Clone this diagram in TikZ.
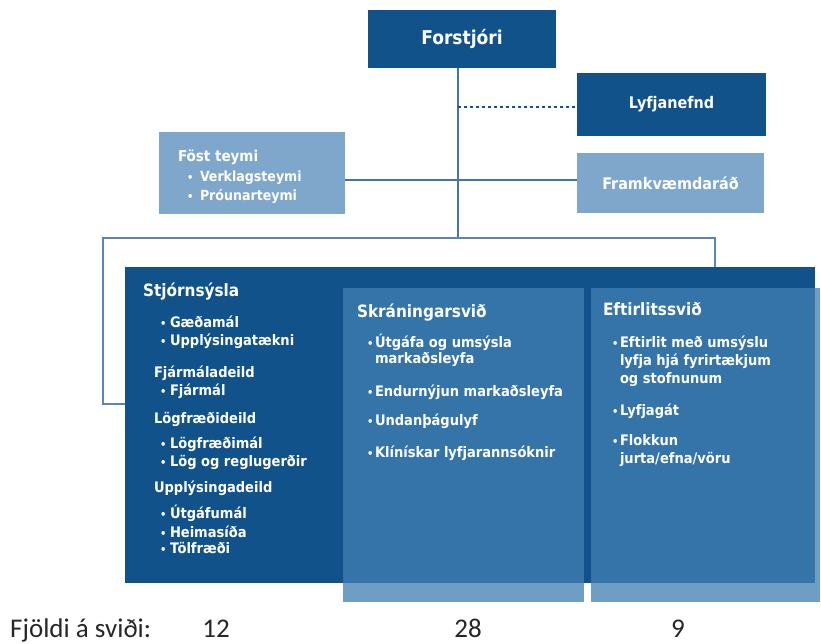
\documentclass[tikz,border=0pt]{standalone}
\usepackage{fontspec}
\setmainfont{DejaVu Sans Condensed}
\newfontfamily\calib{Carlito}
\definecolor{darkblue}{HTML}{11528A}
\definecolor{boxblue}{RGB}{64,127,178}
\definecolor{lightblue}{HTML}{7FA7CB}
\definecolor{lineblue}{HTML}{4774A5}
\definecolor{brblue}{HTML}{5B85B3}
\newcommand{\bul}[1]{\makebox[#1][l]{\fontsize{11}{11}\selectfont\textbullet}}
\tikzset{
  box/.style={draw=none, inner sep=0pt, outer sep=0pt, anchor=north west},
  tx/.style={anchor=base west, inner sep=0pt, outer sep=0pt, text=white, font=\bfseries\fontsize{14.5}{16}\selectfont},
  hd/.style={tx, font=\bfseries\fontsize{17}{19}\selectfont},
  conn/.style={draw=lineblue, line width=1.5pt},
  brk/.style={draw=brblue, line width=2pt},
  dots/.style={draw=darkblue, line width=2.2pt, dash pattern=on 3pt off 3pt},
  lbl/.style={anchor=base, inner sep=0pt, text=black!85, font=\calib\fontsize{27}{30}\selectfont}
}
\begin{document}
\begin{tikzpicture}[x=1pt,y=-1pt]
\useasboundingbox (0,0) rectangle (821,643);
% top boxes
\node[box, fill=darkblue, minimum width=188pt, minimum height=58pt, text=white, font=\bfseries\fontsize{19}{21}\selectfont] (f) at (368,10) {Forstjóri};
\node[box, fill=darkblue, minimum width=189pt, minimum height=63pt, text=white, font=\bfseries\fontsize{16}{18}\selectfont] (ly) at (577,73) {Lyfjanefnd};
\node[box, fill=lightblue, minimum width=187pt, minimum height=60pt, text=white, font=\bfseries\fontsize{16}{18}\selectfont] (fr) at (577,153) {Framkvæmdaráð};
\node[box, fill=lightblue, minimum width=186pt, minimum height=82pt] (ft) at (159,132) {};
\node[tx, font=\bfseries\fontsize{15}{17}\selectfont] (ft0) at (178,161) {Föst teymi};
\node[tx, font=\bfseries\fontsize{14}{16}\selectfont] (ft1) at (187,181) {\bul{13pt}Verklagsteymi};
\node[tx, font=\bfseries\fontsize{14}{16}\selectfont] (ft2) at (187,200) {\bul{13pt}Próunarteymi};
% connectors
\coordinate (top) at (458,238);
\coordinate (dj) at (458,107);
\coordinate (hz) at (458,180);
\coordinate (bl) at (103,404);
\coordinate (br) at (715,238);
\draw[conn] (f.south -| top) -- (top);
\draw[dots] (dj) -- (ly.west |- dj);
\draw[conn] (ft.east |- hz) -- (fr.west |- hz);
% main boxes
\node[box, fill=darkblue, minimum width=690pt, minimum height=316pt] (st) at (125,267) {};
\draw[brk] (st.west |- bl) -- (bl) |- (br) -- (br |- st.north);
\node[box, fill=boxblue, fill opacity=0.76, minimum width=241pt, minimum height=314pt] (sk) at (343,288) {};
\node[box, fill=boxblue, fill opacity=0.76, minimum width=229pt, minimum height=314pt] (ef) at (591,288) {};
% Stjornsysla column
\node[hd] (s0) at (143,296) {Stjórnsýsla};
\node[tx] (s1) at (160,327) {\bul{10pt}Gæðamál};
\node[tx] (s2) at (160,345) {\bul{10pt}Upplýsingatækni};
\node[tx] (s3) at (154,377) {Fjármáladeild};
\node[tx] (s4) at (160,395) {\bul{10pt}Fjármál};
\node[tx] (s5) at (154,423) {Lögfræðideild};
\node[tx] (s6) at (160,448) {\bul{10pt}Lögfræðimál};
\node[tx] (s7) at (160,466) {\bul{10pt}Lög og reglugerðir};
\node[tx] (s8) at (154,492) {Upplýsingadeild};
\node[tx] (s9) at (160,518) {\bul{10pt}Útgáfumál};
\node[tx] (s10) at (160,537) {\bul{10pt}Heimasíða};
\node[tx] (s11) at (160,553) {\bul{10pt}Tölfræði};
% Skraningarsvid column
\node[hd] (k0) at (357,317) {Skráningarsvið};
\node[tx] (k1) at (367,347) {\bul{8pt}Útgáfa og umsýsla};
\node[tx] (k2) at (375,363) {markaðsleyfa};
\node[tx] (k3) at (367,396) {\bul{8pt}Endurnýjun markaðsleyfa};
\node[tx] (k4) at (367,425) {\bul{8pt}Undanþágulyf};
\node[tx] (k5) at (367,457) {\bul{8pt}Klínískar lyfjarannsóknir};
% Eftirlitssvid column
\node[hd] (e0) at (603,315) {Eftirlitssvið};
\node[tx] (e1) at (612,347) {\bul{8pt}Eftirlit með umsýslu};
\node[tx] (e2) at (620,365) {lyfja hjá fyrirtækjum};
\node[tx] (e3) at (620,383) {og stofnunum};
\node[tx] (e4) at (612,415) {\bul{8pt}Lyfjagát};
\node[tx] (e5) at (612,445) {\bul{8pt}Flokkun};
\node[tx] (e6) at (620,463) {jurta/efna/vöru};
% bottom counts
\node[lbl, anchor=base west] (n0) at (10,637) {Fjöldi á sviði:};
\node[lbl] (n1) at (216,637) {12};
\node[lbl] (n2) at (468,637) {28};
\node[lbl] (n3) at (678,637) {9};
\end{tikzpicture}
\end{document}
